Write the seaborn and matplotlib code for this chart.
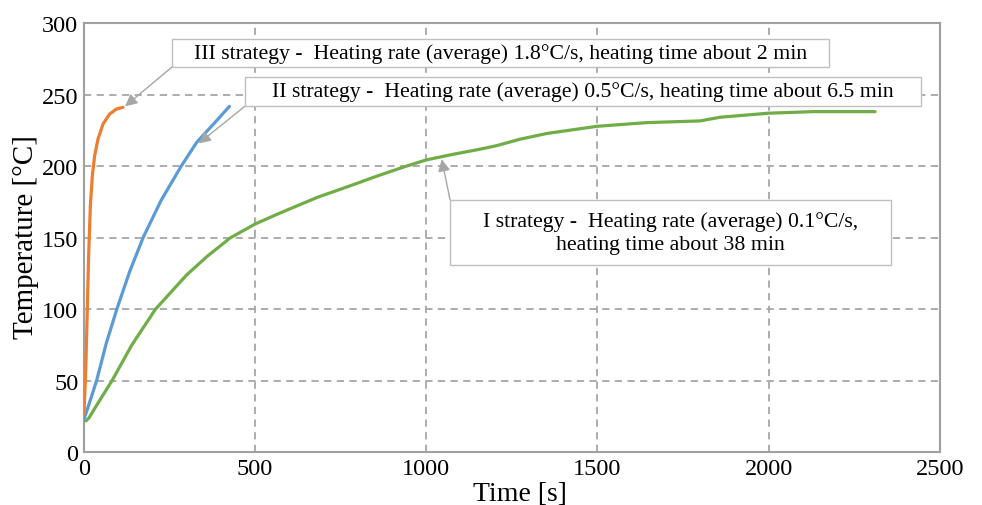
import numpy as np
import pandas as pd
import matplotlib
matplotlib.use("Agg")
import matplotlib.pyplot as plt
from matplotlib.patches import Rectangle
import seaborn as sns

# Heating curves, time [s] vs temperature [°C]
t_III = [0, 5, 8.8, 13.7, 18.7, 24.5, 31.3, 41, 55.6, 75, 94.7, 114]
T_III = [26.6, 55.8, 90.8, 137.5, 172.5, 193.5, 207.5, 219.1, 229.6, 236.6, 240.1, 241.3]

t_II = [0, 10, 37, 65, 96, 133, 172.6, 225, 283.7, 330, 380, 425]
T_II = [23, 30, 50, 76, 100, 126, 150, 176, 200, 217, 230, 242]

t_I = [0, 6, 15, 30, 82, 140, 209, 300, 360, 428, 500, 560, 624, 682, 779, 860,
       940, 1000, 1080, 1157, 1206, 1274, 1352, 1498, 1644, 1800, 1859, 2000,
       2131, 2311]
T_I = [22, 21.8, 24, 30, 50, 75, 100, 124, 137, 150, 159.6, 166, 172.5, 178.3,
       186.5, 193.5, 200, 204.5, 208.5, 212, 214.5, 219, 223, 228, 230.6, 231.8,
       234.4, 237.2, 238.3, 238.3]

series_names = ["I strategy", "II strategy", "III strategy"]
series_colors = ["#70AD47", "#5B9BD5", "#ED7D31"]

label_III = "III strategy -  Heating rate (average) 1.8°C/s, heating time about 2 min"
label_II = "II strategy -  Heating rate (average) 0.5°C/s, heating time about 6.5 min"
label_I = "I strategy -  Heating rate (average) 0.1°C/s,\nheating time about 38 min"

x_ticks = [0, 500, 1000, 1500, 2000, 2500]
y_ticks = [0, 50, 100, 150, 200, 250, 300]

df = pd.concat([
    pd.DataFrame({"Time": t_I, "Temp": T_I, "Strategy": series_names[0]}),
    pd.DataFrame({"Time": t_II, "Temp": T_II, "Strategy": series_names[1]}),
    pd.DataFrame({"Time": t_III, "Temp": T_III, "Strategy": series_names[2]}),
], ignore_index=True)

sns.set_theme(style="white")
plt.rcParams["font.family"] = ["Liberation Serif", "DejaVu Serif"]

fig = plt.figure(figsize=(9.82, 5.06), dpi=100)
ax = fig.add_axes([0.0855, 0.1047, 0.8715, 0.8469])

sns.lineplot(data=df, x="Time", y="Temp", hue="Strategy", hue_order=series_names,
             palette=series_colors, estimator=None, sort=False, linewidth=2.3,
             legend=False, ax=ax, zorder=3)

ax.set_xlim(0, 2500)
ax.set_ylim(0, 300)
ax.set_xticks(x_ticks)
ax.set_yticks(y_ticks)
ax.tick_params(axis="both", length=0, labelsize=17.5, colors="black", pad=4)
ax.grid(True, color="#a6a6a6", linestyle=(0, (4, 3)), linewidth=1.3)
for sp in ax.spines.values():
    sp.set_color("#a0a0a0")
    sp.set_linewidth(1.5)
    sp.set_visible(True)

ax.set_xlabel("Time [s]", fontsize=20, color="black")
ax.set_ylabel("Temperature [°C]", fontsize=21, color="black")
ax.xaxis.set_label_coords(0.51, -0.067)
ax.yaxis.set_label_coords(-0.053, 0.505)

# Callout boxes: (x0, y0, x1, y1) in data units, arrow target on the curve
boxes = [
    (label_III, (258.5, 269.8, 2175.4, 289.2), (258.5, 269.8), (120, 242.0)),
    (label_II, (469.9, 242.0, 2445.6, 262.8), (469.9, 242.0), (335, 216.0)),
    (label_I, (1069.4, 130.9, 2358.9, 176.6), (1069.4, 176.6), (1045, 205.0)),
]
for text, (x0, y0, x1, y1), start, tip in boxes:
    ax.add_patch(Rectangle((x0, y0), x1 - x0, y1 - y0, facecolor="white",
                           edgecolor="#bfbfbf", linewidth=1.0, zorder=5,
                           clip_on=False))
    ax.text((x0 + x1) / 2, (y0 + y1) / 2, text, ha="center", va="center",
            fontsize=15.7, color="black", zorder=6, linespacing=1.25)
    ax.annotate("", xy=tip, xytext=start,
                arrowprops=dict(arrowstyle="-|>", color="#a6a6a6", lw=1.0,
                                mutation_scale=18, shrinkA=0, shrinkB=0),
                zorder=4)

fig.savefig("out.png", dpi=100, facecolor="white")
